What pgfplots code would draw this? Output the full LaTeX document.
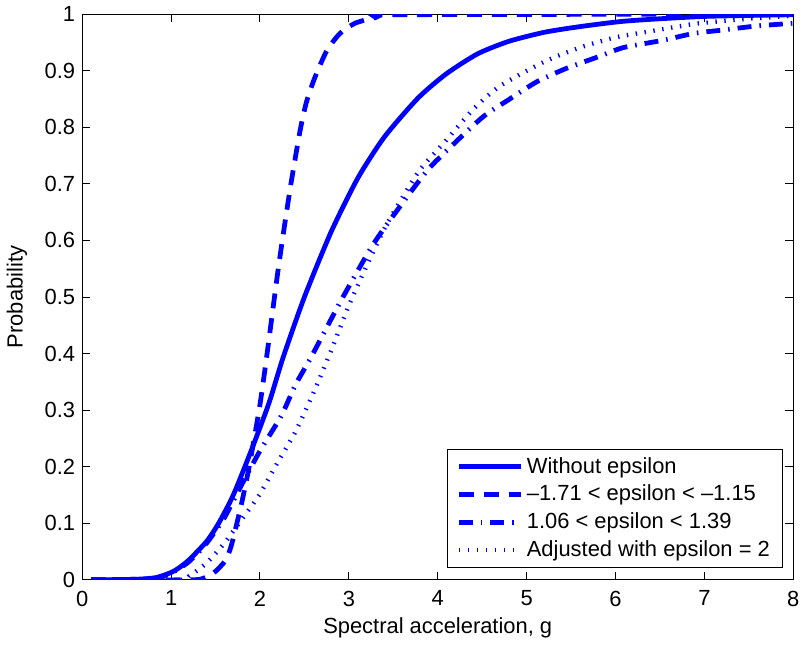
\documentclass[border=0pt]{standalone}
\usepackage{fontspec}
\setmainfont{Liberation Sans}
\usepackage{pgfplots}
\pgfplotsset{compat=1.18}

\begin{document}
\begin{tikzpicture}
  \begin{axis}[
      scale only axis,
      width=357pt, height=284pt,
      xmin=0, xmax=8, ymin=0, ymax=1,
      xtick={0,1,2,3,4,5,6,7,8},
      ytick={0,0.1,0.2,0.3,0.4,0.5,0.6,0.7,0.8,0.9,1},
      tick align=inside,
      xtick pos=both, ytick pos=both,
      xticklabel pos=bottom, yticklabel pos=left,
      major tick length=4pt,
      axis line style={line width=0.5pt},
      every tick/.style={black, line width=0.5pt},
      /pgf/number format/assume math mode=true,
      tick label style={font=\fontsize{11}{13}\selectfont},
      xticklabel style={yshift=-2pt},
      label style={font=\fontsize{11}{13}\selectfont},
      xlabel={Spectral acceleration, g},
      ylabel={Probability},
      xlabel style={yshift=1pt},
      ylabel style={yshift=2pt},
      legend cell align=left,
      legend style={
          at={(rel axis cs:0.986,0.021)}, anchor=south east,
          draw=black, line width=0.5pt,
          font=\fontsize{11}{13}\selectfont,
          inner xsep=4.5pt, inner ysep=2pt,
          row sep=0.5pt,
        },
      legend image code/.code={
          \draw[#1] (0pt,0pt) -- (31pt,0pt);
        },
    ]

    % Without epsilon
    \addplot[blue, line width=2.4pt, solid, smooth, tension=0.4] coordinates {
        (0.1,0) (0.6,0.001) (0.83,0.004) (1.0,0.013) (1.087,0.021) (1.2,0.035)
        (1.4,0.068) (1.535,0.100) (1.7,0.150) (1.905,0.230) (2.1,0.312)
        (2.26,0.393) (2.5,0.500) (2.8,0.615) (3.1,0.710) (3.4,0.783)
        (3.78,0.852) (4.1,0.895) (4.45,0.930) (4.8,0.952) (5.2,0.968)
        (5.6,0.978) (6.13,0.988) (7.0,0.996) (8.0,0.999)
      };

    % -1.71 < epsilon < -1.15
    \addplot[blue, line width=2.4pt, dash pattern=on 7.5pt off 5pt, smooth, tension=0.4] coordinates {
        (0.1,0) (1.2,0) (1.35,0.002) (1.42,0.007) (1.5,0.015) (1.61,0.034)
        (1.68,0.062) (1.8,0.140) (1.89,0.210) (2.0,0.310) (2.08,0.400)
        (2.21,0.555) (2.34,0.692) (2.45,0.793) (2.52,0.843) (2.61,0.885)
        (2.75,0.935) (2.9,0.966) (3.07,0.984) (3.3,0.994) (3.6,0.999) (8.0,1.0)
      };

    % 1.06 < epsilon < 1.39
    \addplot[blue, line width=2.4pt, dash pattern=on 7pt off 4pt on 0.8pt off 4pt, smooth, tension=0.4] coordinates {
        (0.1,0) (0.8,0.002) (1.0,0.012) (1.2,0.032) (1.4,0.065) (1.6,0.110)
        (1.8,0.170) (2.0,0.228) (2.24,0.290) (2.4,0.345) (2.58,0.395)
        (2.92,0.496) (3.29,0.597) (3.74,0.695) (3.96,0.737) (4.49,0.816)
        (4.8,0.849) (5.12,0.881) (5.46,0.905) (5.83,0.926) (6.09,0.941)
        (6.54,0.954) (6.88,0.966) (7.21,0.972) (7.58,0.979) (8.0,0.984)
      };

    % Adjusted with epsilon = 2
    \addplot[blue, line width=2.2pt, dash pattern=on 0.7pt off 3.8pt, smooth, tension=0.4] coordinates {
        (0.1,0) (1.1,0) (1.2,0.006) (1.4,0.030) (1.6,0.065) (1.8,0.108)
        (2.0,0.152) (2.2,0.208) (2.4,0.262) (2.6,0.330) (2.8,0.405)
        (3.0,0.485) (3.2,0.555) (3.4,0.621) (3.6,0.675) (3.8,0.725)
        (4.1,0.778) (4.4,0.832) (4.7,0.873) (5.2,0.916) (5.6,0.941)
        (6.0,0.959) (6.4,0.970) (6.9,0.983) (7.5,0.992) (8.0,0.997)
      };

    \legend{Without epsilon, --1.71 < epsilon < --1.15, 1.06 < epsilon < 1.39, Adjusted with epsilon = 2}
  \end{axis}
\end{tikzpicture}
\end{document}
